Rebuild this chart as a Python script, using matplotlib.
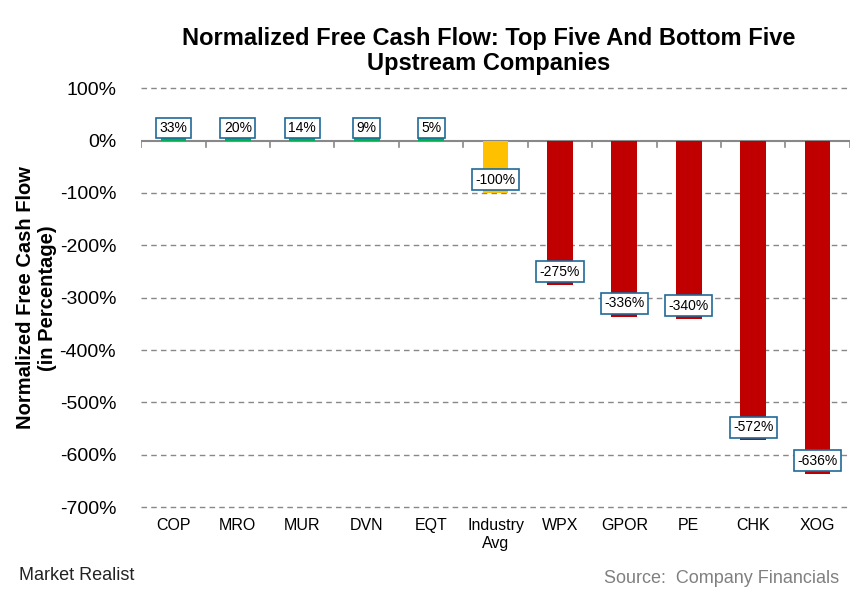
import matplotlib.pyplot as plt
import numpy as np

plt.rcParams['font.family'] = ['Liberation Sans', 'DejaVu Sans']

# data
companies = ['COP', 'MRO', 'MUR', 'DVN', 'EQT', 'Industry\nAvg', 'WPX', 'GPOR', 'PE', 'CHK', 'XOG']
fcf = [33, 20, 14, 9, 5, -100, -275, -336, -340, -572, -636]
# bar heights as drawn in the source (positive bars are squashed there)
drawn = [6, 6, 6, 6, 5, -100, -275, -336, -340, -572, -636]
colors = ['#00B050'] * 5 + ['#FFC000'] + ['#C00000'] * 5

fig = plt.figure(figsize=(8.61, 5.96), dpi=100)
ax = fig.add_axes([0.164, 0.149, 0.823, 0.703])

x = np.arange(len(companies))
ax.bar(x, drawn, width=0.4, color=colors, zorder=3)

for xi, v, h in zip(x, fcf, drawn):
    ypos = 24 if v > 0 else h + 25
    ax.text(xi, ypos, f'{v}%', ha='center', va='center', fontsize=10, zorder=4,
            bbox=dict(boxstyle='square,pad=0.25', fc='white', ec='#1F6A9A', lw=1.2))

ax.set_ylim(-700, 100)
ax.set_xlim(-0.5, len(companies) - 0.5)
ax.set_yticks(range(-700, 101, 100))
ax.set_yticklabels([f'{t}%' for t in range(-700, 101, 100)], fontsize=14)
ax.set_xticks(x)
ax.set_xticklabels(companies, fontsize=11.5)
ax.tick_params(axis='both', length=0)
ax.tick_params(axis='x', pad=8)
ax.tick_params(axis='y', pad=18)

for t in range(-700, 101, 100):
    if t != 0:
        ln = ax.axhline(t, color='#888888', ls=(0, (4, 3)), lw=1, zorder=1)
        ln.set_clip_on(False)
ax.axhline(0, color='#888888', lw=1.5, zorder=2)
for b in np.arange(-0.5, len(companies), 1):
    ax.plot([b, b], [0, -12], color='#888888', lw=1.2, zorder=2)

for s in ax.spines.values():
    s.set_visible(False)

ax.set_ylabel('Normalized Free Cash Flow\n(in Percentage)', fontsize=14.5, fontweight='bold', labelpad=2)
fig.text(0.568, 0.915, 'Normalized Free Cash Flow: Top Five And Bottom Five\nUpstream Companies',
         ha='center', va='center', fontsize=17, fontweight='bold', linespacing=1.1)

fig.text(0.975, 0.015, 'Source:  Company Financials', ha='right', va='bottom', fontsize=13, color='#808080')
fig.text(0.022, 0.02, 'Market Realist', ha='left', va='bottom', fontsize=13, color='#222222')

fig.savefig('out.png', dpi=100)
